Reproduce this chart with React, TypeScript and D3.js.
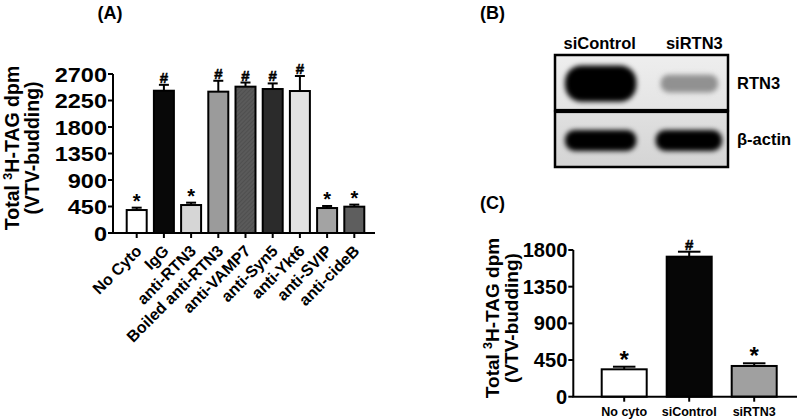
import React from "react";
import * as d3 from "d3";

// ---------- Panel A data ----------
const catsA = ["No Cyto", "IgG", "anti-RTN3", "Boiled anti-RTN3", "anti-VAMP7", "anti-Syn5", "anti-Ykt6", "anti-SVIP", "anti-cideB"];
const valsA = [390, 2416, 475, 2400, 2485, 2445, 2411, 424, 447];
const errA = [40, 100, 40, 185, 70, 95, 255, 35, 35];
const sigA = ["*", "#", "*", "#", "#", "#", "#", "*", "*"];
const ticksA = [0, 450, 900, 1350, 1800, 2250, 2700];
const fillsA = ["#ffffff", "#080808", "#d6d6d6", "#9b9b9b", "url(#hatch)", "#2b2b2b", "#e2e2e2", "#a3a3a3", "#5e5e5e"];

// ---------- Panel B data ----------
const blotLanes = ["siControl", "siRTN3"];
const blotRows = ["RTN3", "β-actin"];
const blotIntensity = [
  [1.0, 0.42],
  [0.95, 0.95],
];

// ---------- Panel C data ----------
const catsC = ["No cyto", "siControl", "siRTN3"];
const valsC = [336, 1718, 377];
const errC = [32, 61, 33];
const sigC = ["*", "#", "*"];
const ticksC = [0, 450, 900, 1350, 1800];
const fillsC = ["#ffffff", "#060606", "#a0a0a0"];

const FONT = "'Liberation Sans', Arial, Helvetica, sans-serif";

function BarPanel(props: {
  cats: string[]; vals: number[]; errs: number[]; sigs: string[]; ticks: number[]; fills: string[];
  xRange: [number, number]; padInner: number; yDomain: [number, number]; yRange: [number, number];
  axisX0: number; axisX1: number; tickFont: number; tickStretch: number; rotated: boolean; catFont: number;
  starFont: number; starDy: number; hashFont: number; titleX: number; titleY: number; titleFont: number;
}) {
  const p = props;
  const x = d3.scaleBand<string>().domain(p.cats).range(p.xRange).paddingInner(p.padInner).paddingOuter(0);
  const y = d3.scaleLinear().domain(p.yDomain).range(p.yRange);
  const bw = x.bandwidth();
  const y0 = y(0);
  const yTop = y(p.yDomain[1]);
  return (
    <g fontFamily={FONT} fontWeight="bold">
      {p.cats.map((c, i) => {
        const cx = (x(c) as number) + bw / 2;
        const top = y(p.vals[i]);
        const et = y(p.vals[i] + p.errs[i]);
        const isStar = p.sigs[i] === "*";
        return (
          <g key={c}>
            <line x1={cx} x2={cx} y1={top} y2={et} stroke="#000" strokeWidth={2} />
            <line x1={cx - bw / 4} x2={cx + bw / 4} y1={et} y2={et} stroke="#000" strokeWidth={2} />
            <rect x={x(c)} y={top} width={bw} height={y0 - top} fill={p.fills[i]} stroke="#000" strokeWidth={2} />
            <text x={cx} y={isStar ? et + p.starDy : et - 2} textAnchor="middle" fontSize={isStar ? p.starFont : p.hashFont}
              stroke={isStar ? "none" : "#000"} strokeWidth={isStar ? 0 : 0.5}>{p.sigs[i]}</text>
            <line x1={cx} x2={cx} y1={y0} y2={y0 + 5} stroke="#000" strokeWidth={2} />
            {p.rotated ? (
              <text transform={`translate(${cx + 6},${y0 + 19}) rotate(-45)`} textAnchor="end" fontSize={p.catFont}>{c}</text>
            ) : (
              <text x={cx} y={y0 + 19} textAnchor="middle" fontSize={p.catFont}>{c}</text>
            )}
          </g>
        );
      })}
      <line x1={p.axisX0} x2={p.axisX0} y1={yTop} y2={y0} stroke="#000" strokeWidth={2} />
      <line x1={p.axisX0 - 1} x2={p.axisX1} y1={y0} y2={y0} stroke="#000" strokeWidth={2} />
      {p.ticks.map((t) => (
        <g key={t}>
          <line x1={p.axisX0 - 5} x2={p.axisX0} y1={y(t)} y2={y(t)} stroke="#000" strokeWidth={2} />
          <text transform={`translate(${p.axisX0 - 6},${y(t)}) scale(${p.tickStretch},1)`} dy="0.36em" textAnchor="end" fontSize={p.tickFont}>{t}</text>
        </g>
      ))}
      <text transform={`translate(${p.titleX},${p.titleY}) rotate(-90)`} textAnchor="middle" fontSize={p.titleFont}>
        <tspan x={0} dy={0}>Total <tspan baselineShift="super" fontSize={p.titleFont * 0.65}>3</tspan>H-TAG dpm</tspan>
        <tspan x={0} dy={p.titleFont * 1.02}>(VTV-budding)</tspan>
      </text>
    </g>
  );
}

function Blot() {
  const x = d3.scaleBand<string>().domain(blotLanes).range([562, 726]).paddingInner(0.15);
  const y = d3.scaleBand<string>().domain(blotRows).range([55, 167]).paddingInner(0.03);
  const bw = x.bandwidth();
  const bh = y.bandwidth();
  return (
    <g fontFamily={FONT} fontWeight="bold">
      <defs>
        <filter id="blur" x="-30%" y="-60%" width="160%" height="220%">
          <feGaussianBlur stdDeviation={2.5} />
        </filter>
        <linearGradient id="bg0" x1="0" x2="0" y1="0" y2="1">
          <stop offset="0" stopColor="#eeeeee" />
          <stop offset="1" stopColor="#e4e4e4" />
        </linearGradient>
        <linearGradient id="bg1" x1="0" x2="0" y1="0" y2="1">
          <stop offset="0" stopColor="#e0e0e0" />
          <stop offset="1" stopColor="#d4d4d4" />
        </linearGradient>
      </defs>
      {blotRows.map((r, ri) => (
        <g key={r}>
          <rect x={555} y={y(r)} width={173} height={bh} fill={`url(#bg${ri})`} />
          {blotLanes.map((l, li) => {
            const v = blotIntensity[ri][li];
            const h = ri === 0 ? bh * (0.08 + 0.58 * v) : bh * 0.38;
            const cy = (y(r) as number) + bh / 2 + 1;
            const g = Math.round(255 * (1 - v) * 1.05);
            const c = Math.max(0, g - 10);
            const col = `rgb(${c},${c},${c})`;
            const inset = li === 0 ? 3 : (ri === 0 ? 10 : 5);
            const shrink = li === 0 ? 4 : (ri === 0 ? 18 : 9);
            return (
              <rect key={l} x={(x(l) as number) + inset} y={cy - h / 2} width={bw - shrink} height={h}
                rx={h / 2.2} ry={h / 2.2} fill={col} filter="url(#blur)" />
            );
          })}
          <rect x={555} y={y(r)} width={173} height={bh} fill="none" stroke="#000" strokeWidth={2.5} />
          <text x={737} y={(y(r) as number) + bh / 2} dy="0.36em" fontSize={16.5}>{r}</text>
        </g>
      ))}
      {blotLanes.map((l) => (
        <text key={l} x={(x(l) as number) + bw / 2 + (l === "siControl" ? 0 : 6)} y={49} textAnchor="middle" fontSize={16.5}>{l}</text>
      ))}
    </g>
  );
}

export default function App() {
  return (
    <svg width={800} height={419} style={{ position: "absolute", left: 0, top: 0, background: "#fff" }}>
      <defs>
        <pattern id="hatch" width={3} height={3} patternUnits="userSpaceOnUse" patternTransform="rotate(45)">
          <rect width={3} height={3} fill="#5a5a5a" />
          <line x1={0} y1={0} x2={0} y2={3} stroke="#474747" strokeWidth={1.2} />
        </pattern>
      </defs>
      <rect width={800} height={419} fill="#fff" />
      <g fontFamily={FONT} fontWeight="bold" fontSize={18}>
        <text x={110} y={19} textAnchor="middle">(A)</text>
        <text x={480} y={19}>(B)</text>
        <text x={480} y={209}>(C)</text>
      </g>
      <BarPanel cats={catsA} vals={valsA} errs={errA} sigs={sigA} ticks={ticksA} fills={fillsA}
        xRange={[126.7, 364.3]} padInner={0.265} yDomain={[0, 2700]} yRange={[233, 74]}
        axisX0={113} axisX1={375} tickFont={21} tickStretch={1.12} rotated={true} catFont={16}
        starFont={20} starDy={0} hashFont={15} titleX={19} titleY={148} titleFont={19.5} />
      <Blot />
      <BarPanel cats={catsC} vals={valsC} errs={errC} sigs={sigC} ticks={ticksC} fills={fillsC}
        xRange={[601.7, 776.7]} padInner={20 / 65} yDomain={[0, 1800]} yRange={[396.7, 250]}
        axisX0={573.3} axisX1={797} tickFont={19.5} tickStretch={1.03} rotated={false} catFont={12.5}
        starFont={24} starDy={1} hashFont={15} titleX={499} titleY={318} titleFont={19} />
    </svg>
  );
}
